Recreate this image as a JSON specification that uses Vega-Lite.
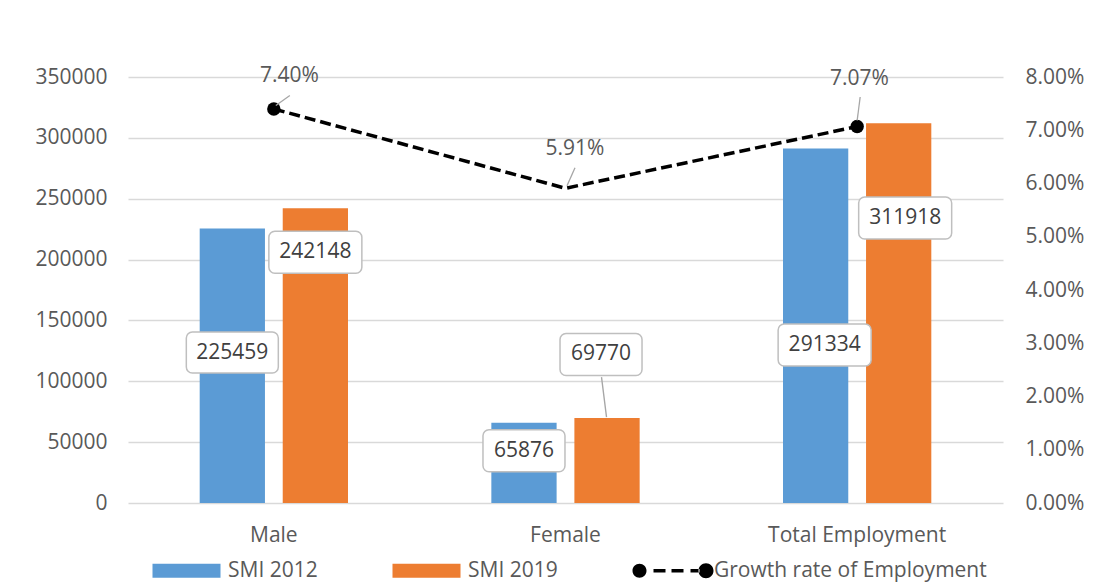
{
  "$schema": "https://vega.github.io/schema/vega-lite/v6.json",
  "width": 875,
  "height": 426,
  "autosize": {"type": "none"},
  "padding": {"left": 128, "top": 77, "right": 98, "bottom": 83},
  "background": "white",
  "config": {
    "font": "Open Sans",
    "view": {"stroke": null},
    "axis": {"domain": false, "ticks": false, "labelFontSize": 21, "labelColor": "#595959", "title": null}
  },
  "datasets": {
    "bars": [
      {"category": "Male", "series": "SMI 2012", "value": 225459},
      {"category": "Male", "series": "SMI 2019", "value": 242148},
      {"category": "Female", "series": "SMI 2012", "value": 65876},
      {"category": "Female", "series": "SMI 2019", "value": 69770},
      {"category": "Total Employment", "series": "SMI 2012", "value": 291334},
      {"category": "Total Employment", "series": "SMI 2019", "value": 311918}
    ],
    "growth": [
      {"category": "Male", "growth": 0.074},
      {"category": "Female", "growth": 0.0591},
      {"category": "Total Employment", "growth": 0.0707}
    ]
  },
  "encoding": {
    "x": {
      "field": "category", "type": "nominal",
      "sort": ["Male", "Female", "Total Employment"],
      "scale": {"paddingInner": 0.4915, "paddingOuter": 0.2458},
      "axis": {"labelAngle": 0, "labelPadding": 21, "grid": false}
    }
  },
  "layer": [
    {
      "data": {"name": "bars"},
      "encoding": {
        "y": {
          "field": "value", "type": "quantitative",
          "scale": {"domain": [0, 350000], "nice": false},
          "axis": {"values": [0, 50000, 100000, 150000, 200000, 250000, 300000, 350000], "format": "d", "labelPadding": 21, "grid": true, "gridColor": "#D9D9D9", "gridWidth": 1.5}
        },
        "xOffset": {"field": "series", "type": "nominal", "sort": ["SMI 2012", "SMI 2019"], "scale": {"paddingInner": 0.214, "paddingOuter": 0}}
      },
      "layer": [
        {
          "mark": {"type": "bar"},
          "encoding": {
            "color": {
              "field": "series", "type": "nominal",
              "scale": {"domain": ["SMI 2012", "SMI 2019", "Growth rate of Employment"], "range": ["#5B9BD5", "#ED7D31", "#000000"]},
              "legend": {
                "orient": "none", "legendX": 25, "legendY": 483, "direction": "horizontal",
                "title": null, "labelFontSize": 21, "labelColor": "#595959", "labelLimit": 400,
                "symbolSize": 4, "symbolType": "M-11,-7H57V7H-11Z", "symbolStrokeWidth": 0,
                "labelOffset": 54, "columnPadding": 74, "padding": 0,
                "encode": {
                  "symbols": {
                    "update": {
                      "shape": {"signal": "datum.value === 'Growth rate of Employment' ? 'M-17,0A7,7 0 1,0 -3,0A7,7 0 1,0 -17,0ZM4,-1.75H16V1.75H4ZM22,-1.75H34V1.75H22ZM41,-1.75H50V1.75H41ZM49,0A7.5,7.5 0 1,0 64,0A7.5,7.5 0 1,0 49,0Z' : 'M-11,-7H57V7H-11Z'"}
                    }
                  }
                }
              }
            }
          }
        },
        {
          "transform": [{"filter": "datum.category === 'Male' && datum.series === 'SMI 2012'"}],
          "layer": [
            {"mark": {"type": "point", "shape": "M-40,-20.5H40A6,6 0 0 1 46,-14.5V14.5A6,6 0 0 1 40,20.5H-40A6,6 0 0 1 -46,14.5V-14.5A6,6 0 0 1 -40,-20.5Z", "size": 4, "filled": true, "fill": "white", "stroke": "#BFBFBF", "strokeWidth": 1.5, "opacity": 1, "yOffset": 124}},
            {"mark": {"type": "text", "fontSize": 21, "color": "#404040", "dy": 124}, "encoding": {"text": {"field": "value", "type": "quantitative", "format": "d"}}}
          ]
        },
        {
          "transform": [{"filter": "datum.category === 'Male' && datum.series === 'SMI 2019'"}],
          "layer": [
            {"mark": {"type": "point", "shape": "M-40.5,-21H40.5A6,6 0 0 1 46.5,-15V15A6,6 0 0 1 40.5,21H-40.5A6,6 0 0 1 -46.5,15V-15A6,6 0 0 1 -40.5,-21Z", "size": 4, "filled": true, "fill": "white", "stroke": "#BFBFBF", "strokeWidth": 1.5, "opacity": 1, "yOffset": 44}},
            {"mark": {"type": "text", "fontSize": 21, "color": "#404040", "dy": 44}, "encoding": {"text": {"field": "value", "type": "quantitative", "format": "d"}}}
          ]
        },
        {
          "transform": [{"filter": "datum.category === 'Female' && datum.series === 'SMI 2012'"}],
          "layer": [
            {"mark": {"type": "point", "shape": "M-35,-21H35A6,6 0 0 1 41,-15V15A6,6 0 0 1 35,21H-35A6,6 0 0 1 -41,15V-15A6,6 0 0 1 -35,-21Z", "size": 4, "filled": true, "fill": "white", "stroke": "#BFBFBF", "strokeWidth": 1.5, "opacity": 1, "yOffset": 28}},
            {"mark": {"type": "text", "fontSize": 21, "color": "#404040", "dy": 28}, "encoding": {"text": {"field": "value", "type": "quantitative", "format": "d"}}}
          ]
        },
        {
          "transform": [{"filter": "datum.category === 'Female' && datum.series === 'SMI 2019'"}],
          "layer": [
            {"mark": {"type": "point", "shape": "M-5.5,-41L-0.5,-1", "size": 4, "filled": false, "stroke": "#A6A6A6", "strokeWidth": 1.3, "opacity": 1}},
            {"mark": {"type": "point", "shape": "M-41,-21H29A6,6 0 0 1 35,-15V15A6,6 0 0 1 29,21H-41A6,6 0 0 1 -47,15V-15A6,6 0 0 1 -41,-21Z", "size": 4, "filled": true, "fill": "white", "stroke": "#BFBFBF", "strokeWidth": 1.5, "opacity": 1, "yOffset": -63.6}},
            {"mark": {"type": "text", "fontSize": 21, "color": "#404040", "dy": -63.6, "dx": -6}, "encoding": {"text": {"field": "value", "type": "quantitative", "format": "d"}}}
          ]
        },
        {
          "transform": [{"filter": "datum.category === 'Total Employment' && datum.series === 'SMI 2012'"}],
          "layer": [
            {"mark": {"type": "point", "shape": "M-31.5,-21H49.5A6,6 0 0 1 55.5,-15V15A6,6 0 0 1 49.5,21H-31.5A6,6 0 0 1 -37.5,15V-15A6,6 0 0 1 -31.5,-21Z", "size": 4, "filled": true, "fill": "white", "stroke": "#BFBFBF", "strokeWidth": 1.5, "opacity": 1, "yOffset": 196.6}},
            {"mark": {"type": "text", "fontSize": 21, "color": "#404040", "dy": 196.6, "dx": 9}, "encoding": {"text": {"field": "value", "type": "quantitative", "format": "d"}}}
          ]
        },
        {
          "transform": [{"filter": "datum.category === 'Total Employment' && datum.series === 'SMI 2019'"}],
          "layer": [
            {"mark": {"type": "point", "shape": "M-34,-21H47A6,6 0 0 1 53,-15V15A6,6 0 0 1 47,21H-34A6,6 0 0 1 -40,15V-15A6,6 0 0 1 -34,-21Z", "size": 4, "filled": true, "fill": "white", "stroke": "#BFBFBF", "strokeWidth": 1.5, "opacity": 1, "yOffset": 94.6}},
            {"mark": {"type": "text", "fontSize": 21, "color": "#404040", "dy": 94.6, "dx": 6.5}, "encoding": {"text": {"field": "value", "type": "quantitative", "format": "d"}}}
          ]
        }
      ]
    },
    {
      "data": {"name": "growth"},
      "encoding": {
        "y": {
          "field": "growth", "type": "quantitative",
          "scale": {"domain": [0, 0.08], "nice": false},
          "axis": {"orient": "right", "values": [0, 0.01, 0.02, 0.03, 0.04, 0.05, 0.06, 0.07, 0.08], "format": ".2%", "grid": false, "labelPadding": 22}
        }
      },
      "layer": [
        {"mark": {"type": "line", "color": "black", "strokeWidth": 3.5, "strokeDash": [11, 5]}, "encoding": {}},
        {
          "transform": [{"filter": "datum.category !== 'Female'"}],
          "mark": {"type": "point", "shape": "circle", "filled": true, "color": "black", "size": 180, "opacity": 1}
        },
        {
          "transform": [{"filter": "datum.category === 'Male'"}],
          "layer": [
            {"mark": {"type": "point", "shape": "M2,-3.5L16,-13.5", "size": 4, "filled": false, "stroke": "#A6A6A6", "strokeWidth": 1.3, "opacity": 1}},
            {"mark": {"type": "text", "fontSize": 21, "color": "#595959", "dx": 15.5, "dy": -32.6}, "encoding": {"text": {"field": "growth", "type": "quantitative", "format": ".2%"}}}
          ]
        },
        {
          "transform": [{"filter": "datum.category === 'Female'"}],
          "layer": [
            {"mark": {"type": "point", "shape": "M1.5,-2.5L9.5,-20.5", "size": 4, "filled": false, "stroke": "#A6A6A6", "strokeWidth": 1.3, "opacity": 1}},
            {"mark": {"type": "text", "fontSize": 21, "color": "#595959", "dx": 9.5, "dy": -39}, "encoding": {"text": {"field": "growth", "type": "quantitative", "format": ".2%"}}}
          ]
        },
        {
          "transform": [{"filter": "datum.category === 'Total Employment'"}],
          "layer": [
            {"mark": {"type": "point", "shape": "M0,-6L3,-29.5", "size": 4, "filled": false, "stroke": "#A6A6A6", "strokeWidth": 1.3, "opacity": 1}},
            {"mark": {"type": "text", "fontSize": 21, "color": "#595959", "dx": 2.3, "dy": -47.5}, "encoding": {"text": {"field": "growth", "type": "quantitative", "format": ".2%"}}}
          ]
        }
      ]
    }
  ],
  "resolve": {"scale": {"y": "independent"}, "axis": {"y": "independent"}}
}
